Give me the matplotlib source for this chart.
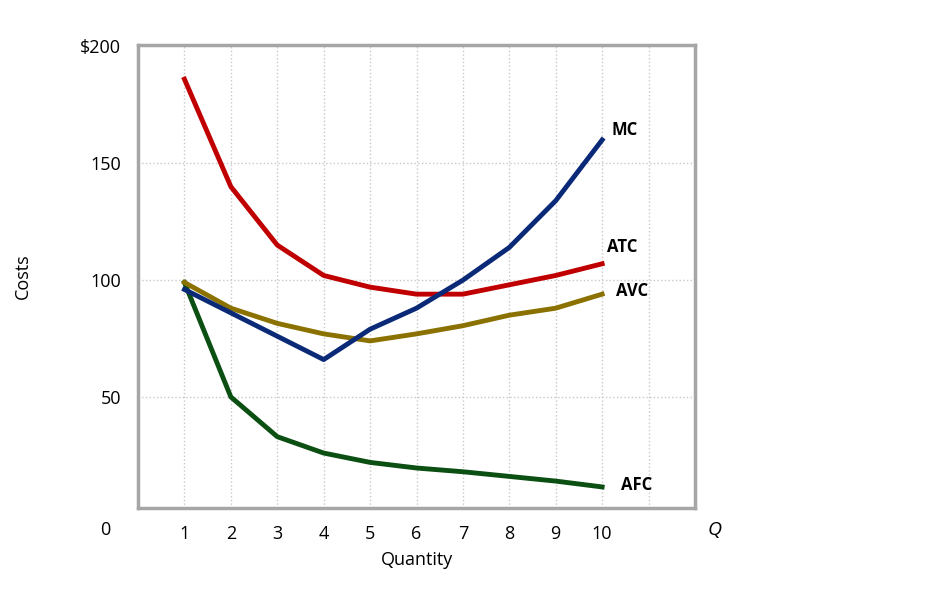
import matplotlib.pyplot as plt

plt.rcParams['font.family'] = ['Open Sans', 'DejaVu Sans']

q = [1, 2, 3, 4, 5, 6, 7, 8, 9, 10]
atc = [186, 140, 115, 102, 97, 94, 94, 98, 102, 107]
avc = [99, 88, 81.5, 77, 74, 77, 80.5, 85, 88, 94]
mc = [96, 86, 76, 66, 79, 88, 100, 114, 134, 160]
afc = [99, 50, 33, 26, 22, 19.6, 18, 16, 14, 11.5]

fig = plt.figure(figsize=(9.52, 6.04), dpi=100)
ax = fig.add_axes([0.145, 0.159, 0.585, 0.766])

for x in range(1, 12):
    ax.axvline(x, color='#c8c8c8', linestyle=':', linewidth=1, zorder=0)
for y in [50, 100, 150]:
    ax.axhline(y, color='#c8c8c8', linestyle=':', linewidth=1, zorder=0)

ax.plot(q, afc, color='#0b4f12', linewidth=3.5)
ax.plot(q, avc, color='#8b7200', linewidth=3.5)
ax.plot(q, atc, color='#c00000', linewidth=3.5)
ax.plot(q, mc, color='#0a2a78', linewidth=3.5)

ax.text(10.2, 162, 'MC', fontweight='bold', fontsize=12)
ax.text(10.1, 112, 'ATC', fontweight='bold', fontsize=12)
ax.text(10.3, 93, 'AVC', fontweight='bold', fontsize=12)
ax.text(10.4, 10, 'AFC', fontweight='bold', fontsize=12)

ax.set_xlim(0, 12)
ax.set_ylim(2.5, 200.5)
ax.set_xticks(q)
ax.set_yticks([50, 100, 150, 200])
ax.set_yticklabels(['50', '100', '150', '$200'])
ax.tick_params(length=0, labelsize=13, pad=12)
for s in ax.spines.values():
    s.set_color('#a6a6a6')
    s.set_linewidth(2.5)

ax.set_xlabel('Quantity', fontsize=13, labelpad=6)
ax.set_ylabel('Costs', fontsize=13, labelpad=35)
fig.text(105 / 952, 1 - 530 / 604, '0', fontsize=13, ha='center', va='center')
fig.text(715 / 952, 1 - 530 / 604, 'Q', fontsize=14, style='italic', ha='center', va='center')

fig.savefig('out.png')
